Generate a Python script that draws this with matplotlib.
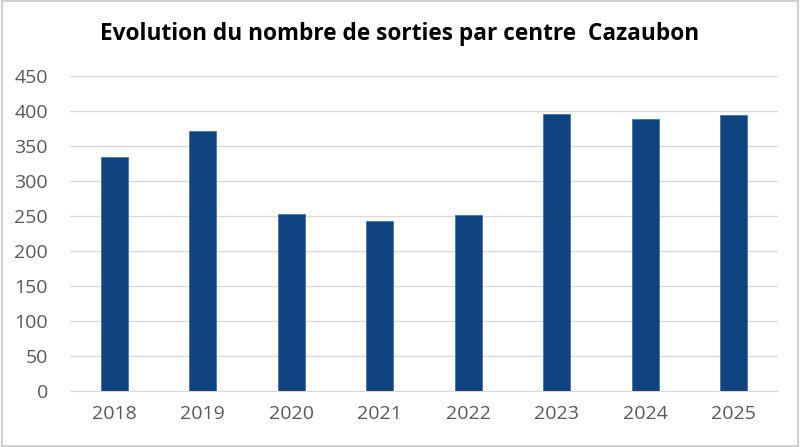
import matplotlib.pyplot as plt
from matplotlib.patches import Rectangle

years = ['2018', '2019', '2020', '2021', '2022', '2023', '2024', '2025']
sorties = [333, 371, 253, 242, 251, 395, 388, 394]

fig = plt.figure(figsize=(8, 4.47), dpi=100)
ax = fig.add_axes([0.0875, 0.126, 0.885, 0.705])

ax.bar(years, sorties, width=0.31, color='#0F4480', edgecolor='#4A72A8', linewidth=0.6, zorder=3)

ax.set_ylim(0, 450)
ax.set_xlim(-0.5, len(years) - 0.5)
ax.set_yticks(range(0, 451, 50))
ax.yaxis.grid(True, color='#D9D9D9', linewidth=1, zorder=0)
for s in ['top', 'right', 'left']:
    ax.spines[s].set_visible(False)
ax.spines['bottom'].set_color('#D9D9D9')
ax.tick_params(axis='both', length=0, labelsize=14, labelcolor='#595959')
ax.tick_params(axis='x', pad=10)
ax.tick_params(axis='y', pad=16)
for lbl in ax.get_xticklabels() + ax.get_yticklabels():
    lbl.set_family('Open Sans')

fig.text(0.5, 0.925, 'Evolution du nombre de sorties par centre  Cazaubon',
         ha='center', va='center', fontsize=16.3, fontweight='bold', family='Open Sans')

fig.patches.append(Rectangle((0.002, 0.003), 0.996, 0.994, transform=fig.transFigure,
                             fill=False, edgecolor='#D0D0D0', linewidth=1.5))

fig.savefig('out.png', dpi=100)
